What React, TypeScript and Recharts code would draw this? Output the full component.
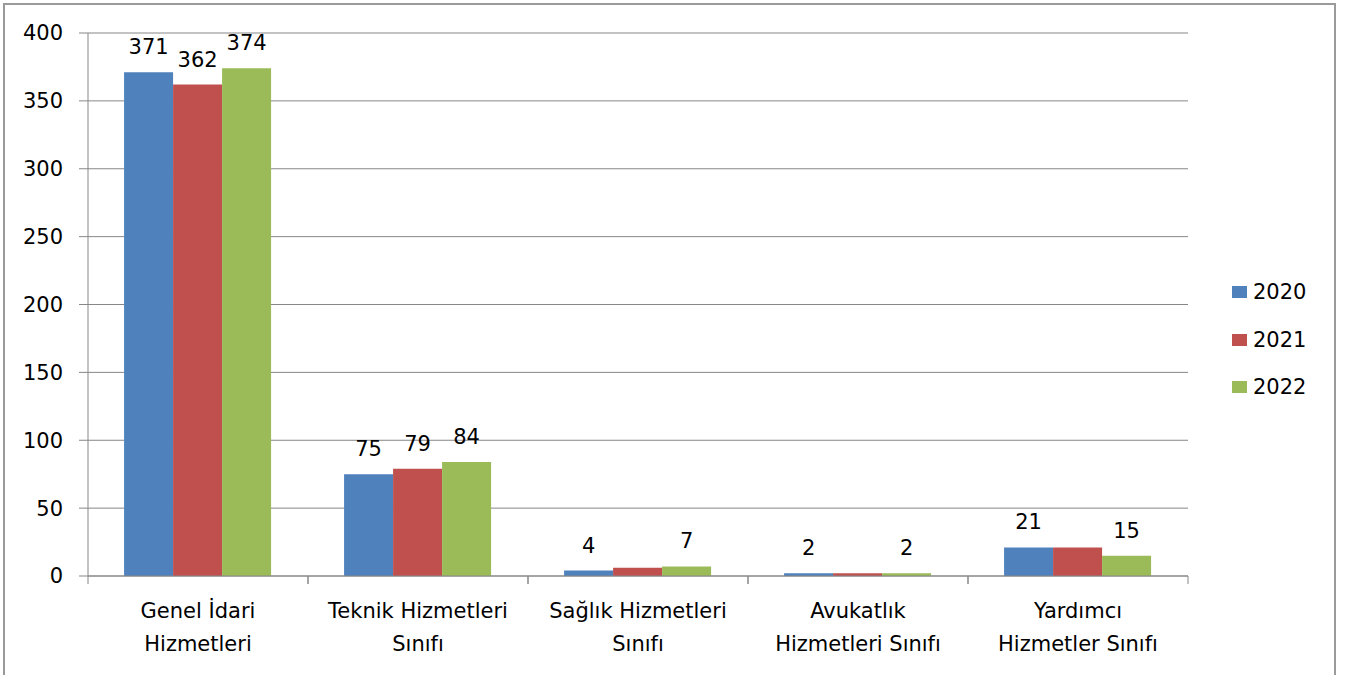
import { BarChart, Bar, XAxis, YAxis, CartesianGrid, LabelList } from 'recharts';

// Kadro sınıflarına göre personel sayıları (2020–2022)
const categories = [
  'Genel İdari\nHizmetleri',
  'Teknik Hizmetleri\nSınıfı',
  'Sağlık Hizmetleri\nSınıfı',
  'Avukatlık\nHizmetleri Sınıfı',
  'Yardımcı\nHizmetler Sınıfı',
];
const values2020 = [371, 75, 4, 2, 21];
const values2021 = [362, 79, 6, 2, 21];
const values2022 = [374, 84, 7, 2, 15];
// Excel'de üst üste binen etiketler gizlenmiş
const labels2021 = [362, 79, null, null, null];
const yTicks = [0, 50, 100, 150, 200, 250, 300, 350, 400];
const years = ['2020', '2021', '2022'];

const COLORS = ['#4F81BD', '#C0504D', '#9BBB59'];
const GRID = '#878787';
const FONT = '"DejaVu Sans", sans-serif';

const data = categories.map((name, i) => ({
  name,
  y2020: values2020[i],
  y2021: values2021[i],
  y2022: values2022[i],
  l2021: labels2021[i],
}));

const BAND = 220;

function CategoryTick({ x, y, payload }: any) {
  const lines = String(payload.value).split('\n');
  return (
    <g>
      <line x1={x - BAND / 2} x2={x - BAND / 2} y1={y} y2={y + 8} stroke={GRID} />
      <line x1={x + BAND / 2} x2={x + BAND / 2} y1={y} y2={y + 8} stroke={GRID} />
      {lines.map((l, i) => (
        <text key={i} x={x} y={y + 42 + i * 33} textAnchor="middle" fontSize={21} fontFamily={FONT} fill="#000">
          {l}
        </text>
      ))}
    </g>
  );
}

const labelStyle = { fill: '#000', fontSize: 21, fontFamily: FONT };

export default function App() {
  return (
    <div style={{ position: 'absolute', left: 0, top: 0, width: 1349, height: 675, background: '#fff', overflow: 'hidden' }}>
      <div
        style={{
          position: 'absolute',
          left: 3,
          top: 3,
          width: 1329,
          height: 700,
          border: '2px solid #9a9a9a',
        }}
      />
      <div style={{ position: 'absolute', left: 0, top: 0 }}>
        <BarChart
          width={1349}
          height={675}
          data={data}
          margin={{ top: 33, right: 161, left: 0, bottom: 0 }}
          barCategoryGap="16.4%"
          barGap={0}
        >
          <CartesianGrid stroke={GRID} vertical={false} />
          <XAxis
            dataKey="name"
            height={99}
            interval={0}
            tickSize={0}
            tickMargin={0}
            tickLine={false}
            axisLine={{ stroke: GRID }}
            tick={<CategoryTick />}
          />
          <YAxis
            width={88}
            domain={[0, 400]}
            ticks={yTicks}
            interval={0}
            tickSize={9}
            tickMargin={16}
            axisLine={{ stroke: GRID }}
            tickLine={{ stroke: GRID }}
            tick={{ fill: '#000', fontSize: 21, fontFamily: FONT }}
          />
          <Bar dataKey="y2020" fill={COLORS[0]} isAnimationActive={false}>
            <LabelList dataKey="y2020" position="top" offset={18} style={labelStyle} />
          </Bar>
          <Bar dataKey="y2021" fill={COLORS[1]} isAnimationActive={false}>
            <LabelList dataKey="l2021" position="top" offset={18} style={labelStyle} />
          </Bar>
          <Bar dataKey="y2022" fill={COLORS[2]} isAnimationActive={false}>
            <LabelList dataKey="y2022" position="top" offset={18} style={labelStyle} />
          </Bar>
        </BarChart>
      </div>
      {years.map((yr, i) => (
        <div
          key={yr}
          style={{
            position: 'absolute',
            left: 1232,
            top: 292 + i * 47.5 - 14,
            height: 28,
            display: 'flex',
            alignItems: 'center',
            fontFamily: FONT,
            fontSize: 21,
            color: '#000',
          }}
        >
          <span style={{ display: 'inline-block', width: 15, height: 12, background: COLORS[i], marginRight: 6 }} />
          {yr}
        </div>
      ))}
    </div>
  );
}
